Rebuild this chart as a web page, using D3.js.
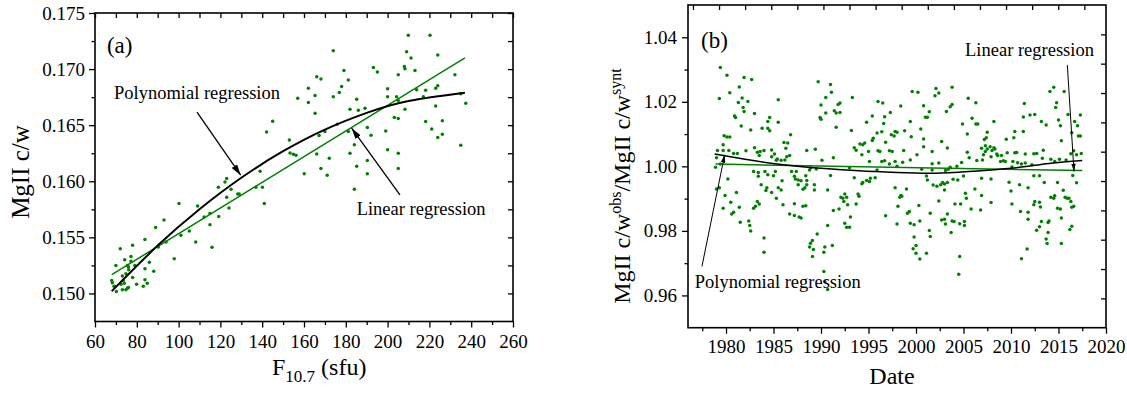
<!DOCTYPE html>
<html>
<head>
<meta charset="utf-8">
<script src="https://cdn.jsdelivr.net/npm/d3@7/dist/d3.min.js"></script>
<style>
body{margin:0;background:#ffffff;}
#chart svg{display:block;}
#chart text{font-family:"Liberation Serif","Times New Roman",serif;}
</style>
</head>
<body>
<div id="chart"></div>
<script>
// ---- (a) MgII c/w versus F10.7 ----
var aFlux=[145.0,142.1,153.0,153.3,154.9,156.2,139.0,123.0,122.2,119.0,
    125.1,128.3,129.0,123.0,137.0,140.1,141.0,124.1,119.2,115.0,
    115.0,112.2,109.1,116.0,108.2,105.1,101.1,100.2,93.0,89.0,
    94.0,90.3,97.9,83.9,78.0,72.1,77.2,74.2,70.0,75.5,
    76.0,77.2,79.1,86.0,83.9,88.1,76.1,74.8,73.1,78.0,
    68.0,68.3,73.5,74.0,69.1,72.4,79.9,83.9,85.0,83.1,
    70.2,73.1,74.8,75.5,76.0,69.6,
    209.9,220.3,174.0,209.1,211.2,224.0,213.1,208.0,208.3,193.2,
    195.1,205.1,232.2,179.1,181.2,166.1,168.1,178.0,162.1,176.9,
    165.3,174.0,157.0,162.1,185.2,200.0,200.0,204.3,205.1,213.9,
    218.2,223.0,224.0,217.1,223.0,235.0,237.4,165.3,182.0,186.0,
    189.2,208.3,203.2,205.1,218.2,226.2,221.1,224.0,226.2,235.0,
    190.3,192.1,199.1,167.2,170.0,175.9,181.2,184.1,166.1,172.1,
    182.0,200.0,205.1,190.3,185.2,168.1,160.1,171.1,190.3,205.1,184.1];
var aRatio=[0.16536,0.16440,0.16369,0.16253,0.16241,0.16232,0.16089,0.16024,0.15994,0.15946,
    0.15929,0.15887,0.15887,0.15857,0.15946,0.15946,0.15801,0.15761,0.15685,0.15712,
    0.15613,0.15681,0.15779,0.15411,0.15458,0.15556,0.15518,0.15801,0.15654,0.15587,
    0.15458,0.15413,0.15310,0.15480,0.15429,0.15399,0.15330,0.15301,0.15250,0.15250,
    0.15235,0.15286,0.15250,0.15279,0.15220,0.15199,0.15212,0.15176,0.15155,0.15143,
    0.15116,0.15096,0.15116,0.15092,0.15065,0.15083,0.15083,0.15122,0.15092,0.15065,
    0.15018,0.15033,0.15033,0.15047,0.15054,0.15063,
    0.17301,0.17301,0.17164,0.17155,0.17098,0.17125,0.16988,0.17024,0.17003,0.17015,
    0.16973,0.16949,0.16949,0.16988,0.16902,0.16931,0.16911,0.16845,0.16830,0.16792,
    0.16765,0.16753,0.16741,0.16703,0.16732,0.16824,0.16753,0.16753,0.16720,0.16815,
    0.16812,0.16830,0.16851,0.16753,0.16672,0.16780,0.16696,0.16607,0.16643,0.16634,
    0.16652,0.16643,0.16569,0.16560,0.16533,0.16539,0.16467,0.16390,0.16420,0.16321,
    0.16480,0.16411,0.16449,0.16408,0.16444,0.16509,0.16444,0.16325,0.16243,0.16205,
    0.16250,0.16280,0.16250,0.16185,0.16134,0.16113,0.16066,0.16054,0.16066,0.16113,0.15930];
var aLinFlux=[68,237];
var aLinRatio=[0.15167,0.17100];
var aPolyFlux=[68,90,110,130,150,170,190,210,237];
var aPolyRatio=[0.15020,0.15427,0.15751,0.16031,0.16268,0.16461,0.16610,0.16716,0.16790];
var aXTicks=[60,80,100,120,140,160,180,200,220,240,260];
var aXMinor=[70,90,110,130,150,170,190,210,230,250];
var aYTicks=[0.150,0.155,0.160,0.165,0.170,0.175];
var aYMinor=[0.1525,0.1575,0.1625,0.1675,0.1725];

// ---- (b) observed / synthetic ratio versus date ----
var bYear=[1979.4,1980.1,1979.3,1980.4,1979.8,1980.1,1980.4,1979.7,1979.1,1979.7,
    1980.3,1980.8,1981.2,1979.0,1978.9,1979.4,1979.0,1979.3,1980.2,1979.9,
    1980.5,1979.7,1981.1,1980.6,1980.8,1981.4,1981.5,1982.4,1982.5,1982.6,
    1981.9,1982.7,1981.4,1981.3,1981.7,1982.3,1981.8,1981.9,1980.9,1981.0,
    1983.0,1981.6,1982.6,1983.8,1984.4,1984.6,1984.4,1984.6,1985.5,1985.5,
    1982.1,1983.0,1983.3,1983.5,1983.6,1984.0,1984.8,1984.8,1985.3,1985.4,
    1985.1,1986.1,1986.5,1986.8,1986.3,1986.2,1986.4,1986.7,1985.8,1982.9,
    1983.4,1983.4,1984.1,1984.4,1985.0,1985.2,1983.7,1984.3,1984.2,1985.5,
    1985.9,1985.3,1984.8,1985.8,1983.3,1983.5,1983.1,1982.9,1984.0,1984.0,
    1986.9,1987.2,1987.4,1987.3,1987.6,1987.9,1988.4,1988.5,1987.6,1988.1,
    1988.3,1988.5,1989.3,1989.3,1988.8,1988.9,1989.5,1988.5,1989.4,1990.1,
    1991.3,1990.7,1991.0,1986.0,1987.2,1986.7,1987.2,1987.7,1987.9,1988.1,
    1988.4,1989.7,1991.0,1990.5,1991.1,1990.0,1989.9,1990.0,1990.5,1991.4,
    1991.6,1991.8,1992.0,1992.0,1991.6,1993.3,1989.1,1988.9,1988.8,1989.2,
    1989.1,1989.6,1990.4,1990.3,1991.2,1990.7,1990.3,1990.4,1990.7,1991.3,
    1992.1,1992.3,1992.5,1992.7,1992.8,1991.9,1993.1,1993.0,1992.7,1992.5,
    1992.4,1993.2,1993.5,1993.7,1994.1,1994.3,1994.4,1994.6,1995.0,1995.1,
    1995.4,1995.5,1995.9,1996.0,1996.2,1996.4,1996.6,1996.7,1996.8,1997.2,
    1997.4,1997.5,1997.7,1997.8,1993.0,1993.5,1994.3,1993.9,1993.7,1994.0,
    1994.4,1994.8,1995.1,1995.2,1995.7,1995.9,1996.4,1996.7,1997.2,1997.8,
    1997.8,1996.8,1998.0,1995.4,1994.8,1996.0,1996.5,1997.3,
    1998.4,1998.0,1998.8,1999.4,1999.5,2000.5,2000.8,2001.0,2001.2,2001.4,
    2000.8,2000.8,2000.1,1998.7,1999.4,1998.6,1998.0,1998.5,1998.3,1998.4,
    1999.0,1998.1,1999.1,1999.3,1999.4,1999.8,1999.8,2000.0,1999.7,2000.0,
    2000.4,2000.3,2000.4,2000.6,2001.1,2001.4,2001.5,2001.5,2001.7,2001.7,
    2001.1,2001.2,1999.6,2000.2,2002.0,2002.4,2002.1,2003.8,2003.2,2003.6,
    2003.8,2005.5,2006.3,2005.9,2006.3,2006.5,2004.9,2005.4,2007.5,2007.4,
    2007.2,2008.2,2006.9,2007.8,2007.3,2007.5,2008.0,2008.2,2008.3,2008.5,
    2008.6,2008.9,2009.2,2009.4,2009.0,2007.3,2007.1,2007.9,2005.4,2005.6,
    2006.4,2007.0,2004.8,2004.3,2002.4,2003.6,2003.1,2003.4,2002.2,2001.8,
    2002.6,2002.8,2003.0,2002.4,2003.0,2003.3,2003.9,2005.0,2004.4,2003.3,
    2002.7,2003.0,2003.1,2003.8,2004.1,2004.7,2004.0,2004.6,2005.1,2005.1,
    2003.7,2004.6,2004.5,2005.2,2005.3,2005.8,2006.2,2006.9,2006.9,2006.8,
    2007.9,2007.9,2009.6,2010.4,2010.6,2010.2,2010.1,2010.7,2011.5,2011.5,
    2011.3,2011.3,2011.4,2012.0,2012.5,2010.4,2010.3,2011.1,2012.2,2012.4,
    2012.7,2013.4,2013.3,2013.2,2013.7,2014.1,2014.5,2014.8,2014.7,2015.0,
    2015.2,2015.3,2015.6,2016.0,2016.4,2016.3,2016.7,2017.0,2017.3,2017.1,
    2017.3,2016.6,2016.9,2017.4,2014.2,2014.6,2015.1,2015.8,2012.4,2013.0,
    2013.5,2014.9,2010.9,2011.8,2009.8,2010.0,2010.1,2011.0,2011.8,2011.8,
    2012.4,2012.5,2013.0,2013.1,2012.7,2013.0,2013.2,2013.9,2014.0,2013.9,
    2013.7,2013.8,2015.3,2014.2,2014.5,2014.6,2014.9,2015.2,2015.3,2015.5,
    2015.7,2015.9,2016.1,2016.3,2016.2,2016.4,2016.4,2016.6,2016.5,2016.9,
    2011.1,2011.7,2009.5,2001.7,2002.7,2003.3];
var bRatio=[1.0306,1.0282,1.0210,1.0228,1.0095,1.0091,1.0091,1.0067,1.0049,1.0049,
    1.0049,1.0040,1.0040,1.0027,0.9997,1.0007,0.9930,0.9934,0.9961,0.9910,
    0.9889,0.9870,0.9919,0.9852,0.9858,0.9873,0.9827,0.9831,0.9817,0.9800,
    1.0275,1.0269,1.0246,1.0198,1.0212,1.0201,1.0182,1.0170,1.0156,1.0151,
    1.0164,1.0125,1.0113,1.0118,1.0118,1.0110,1.0139,1.0151,1.0206,1.0137,
    1.0048,1.0058,1.0044,1.0034,1.0046,1.0049,1.0051,1.0030,1.0019,1.0023,
    1.0038,1.0074,1.0072,1.0098,1.0056,1.0020,1.0030,1.0034,1.0019,0.9984,
    0.9981,0.9969,0.9984,0.9974,0.9971,0.9984,0.9943,0.9934,0.9925,0.9934,
    0.9955,0.9901,0.9919,0.9927,0.9891,0.9883,0.9876,0.9870,0.9778,0.9734,
    0.9984,0.9969,0.9984,0.9961,0.9958,0.9955,0.9971,0.9956,0.9943,0.9929,
    0.9934,0.9943,0.9927,0.9943,0.9989,0.9996,0.9992,1.0049,1.0053,1.0019,
    1.0027,0.9927,0.9972,0.9881,0.9884,0.9852,0.9848,0.9843,0.9840,0.9876,
    0.9878,1.0262,1.0254,1.0213,1.0230,1.0190,1.0151,1.0146,1.0165,1.0172,
    1.0165,1.0192,1.0196,1.0167,1.0121,1.0213,0.9770,0.9762,0.9750,0.9742,
    0.9721,0.9790,0.9750,0.9734,0.9755,0.9817,0.9674,0.9643,0.9618,0.9863,
    0.9904,0.9901,0.9914,0.9904,0.9881,0.9868,0.9843,0.9811,0.9811,0.9824,
    0.9891,1.0111,1.0058,1.0050,1.0069,1.0036,1.0067,1.0072,1.0046,1.0015,
    1.0080,1.0087,1.0103,1.0048,1.0046,1.0107,1.0133,1.0154,1.0075,1.0048,
    1.0098,1.0046,1.0094,1.0108,0.9996,0.9965,0.9946,0.9914,0.9883,0.9907,
    0.9950,0.9956,0.9953,0.9963,0.9965,0.9989,1.0015,1.0017,1.0007,1.0015,
    0.9934,0.9847,0.9821,1.0156,1.0137,1.0201,1.0196,1.0167,
    1.0187,1.0106,1.0110,1.0139,1.0092,1.0116,1.0188,1.0152,1.0152,1.0169,
    1.0085,1.0061,1.0036,1.0049,1.0020,1.0013,1.0000,0.9907,0.9904,0.9910,
    0.9930,0.9876,0.9855,0.9860,0.9824,0.9819,0.9781,0.9755,0.9745,0.9731,
    0.9713,0.9879,0.9831,0.9991,0.9731,0.9801,0.9783,0.9855,1.0008,0.9989,
    0.9970,0.9958,1.0232,1.0230,1.0219,1.0227,1.0241,1.0245,1.0170,1.0185,
    1.0192,1.0211,1.0197,1.0149,1.0131,1.0131,1.0131,1.0100,1.0106,1.0089,
    1.0083,1.0139,1.0056,1.0061,1.0064,1.0054,1.0049,1.0058,1.0054,1.0038,
    1.0034,1.0015,1.0017,1.0015,1.0034,1.0046,1.0036,1.0030,1.0044,1.0027,
    1.0018,1.0020,1.0012,1.0000,1.0010,0.9997,0.9987,0.9991,0.9938,0.9942,
    0.9943,0.9950,0.9945,0.9893,0.9927,0.9950,0.9960,0.9970,0.9958,0.9852,
    0.9834,0.9836,0.9821,0.9831,0.9883,0.9883,0.9829,0.9822,0.9829,0.9817,
    0.9795,0.9721,0.9666,0.9917,0.9901,0.9868,0.9930,0.9963,0.9910,0.9865,
    0.9961,0.9888,1.0042,1.0042,1.0043,1.0015,0.9998,1.0011,1.0038,1.0010,
    1.0108,1.0153,1.0195,1.0159,1.0161,1.0108,1.0089,1.0007,1.0005,1.0039,
    1.0040,1.0050,1.0025,1.0139,1.0128,1.0232,1.0245,1.0197,1.0182,1.0144,
    1.0126,1.0079,1.0232,1.0161,1.0104,1.0039,1.0139,1.0126,1.0159,1.0094,
    1.0094,1.0048,1.0036,1.0040,1.0022,1.0015,1.0022,1.0020,0.9971,0.9971,
    0.9950,0.9950,0.9943,0.9934,0.9951,0.9924,0.9883,0.9860,0.9858,0.9836,
    0.9881,0.9891,0.9889,0.9874,0.9802,0.9813,0.9829,0.9826,0.9831,0.9795,
    0.9775,0.9761,0.9761,0.9904,0.9901,0.9909,0.9870,0.9868,0.9840,0.9926,
    0.9904,0.9901,0.9901,0.9891,0.9804,0.9814,0.9873,0.9876,0.9972,0.9949,
    0.9714,0.9744,1.0084,1.0046,1.0077,1.0057];
var bLinYear=[1978.9,2017.5];
var bLinRatio=[1.0007,0.9987];
var bPolyYear=[1978.8,1982,1986,1990,1994,1998,2002,2006,2010,2014,2017.5];
var bPolyRatio=[1.0038,1.0022,1.0005,0.9994,0.9986,0.9981,0.9979,0.9985,0.9994,1.0009,1.0018];
var bXTicks=[1980,1985,1990,1995,2000,2005,2010,2015,2020];
var bXMinor=[1977.5,1982.5,1987.5,1992.5,1997.5,2002.5,2007.5,2012.5,2017.5];
var bYTicks=[0.96,0.98,1.00,1.02,1.04];
var bYMinor=[0.97,0.99,1.01,1.03];
// mirror axes of (b) carry their own evenly spaced ticks
var bTopTicks=d3.range(0,16);
var bRightTicks=d3.range(1,11);

//画布
var svg=d3.select("#chart").append("svg")
    .attr("width",1127)
    .attr("height",394);

//箭头
var defs=svg.append("defs");
function addArrow(id,w,h){
    defs.append("marker")
        .attr("id",id)
        .attr("markerUnits","userSpaceOnUse")
        .attr("markerWidth",w)
        .attr("markerHeight",h)
        .attr("refX",w)
        .attr("refY",h/2)
        .attr("orient","auto")
        .append("path")
        .attr("d","M0,0L"+w+","+(h/2)+"L0,"+h+"Z")
        .attr("fill","#000");
}
addArrow("arrowA",11,6.5);
addArrow("arrowB",8,4.5);

function styleAxis(g){
    g.select(".domain").remove();
    g.attr("font-family",null).attr("font-size",null);
    g.selectAll("line").attr("stroke","#000").attr("stroke-width",1.3);
    g.selectAll("text").attr("fill","#000").style("font-size","19px");
}

//坐标轴+外框
function drawAxes(p){
    var x0=p.x.range()[0],x1=p.x.range()[1];
    var y0=p.y.range()[0],y1=p.y.range()[1];
    svg.append("g").attr("transform","translate(0,"+y0+")")
        .call(d3.axisBottom(p.x).tickValues(p.xTicks).tickFormat(d3.format("d")).tickSize(6).tickPadding(p.xPad))
        .call(styleAxis);
    svg.append("g").attr("transform","translate(0,"+y0+")")
        .call(d3.axisBottom(p.x).tickValues(p.xMinor).tickFormat("").tickSize(3.5))
        .call(styleAxis);
    svg.append("g").attr("transform","translate("+x0+",0)")
        .call(d3.axisLeft(p.y).tickValues(p.yTicks).tickFormat(d3.format(p.yFmt)).tickSize(6).tickPadding(p.yPad))
        .call(styleAxis);
    svg.append("g").attr("transform","translate("+x0+",0)")
        .call(d3.axisLeft(p.y).tickValues(p.yMinor).tickFormat("").tickSize(3.5))
        .call(styleAxis);
    //上边、右边的刻度朝内
    svg.append("g").attr("transform","translate(0,"+y1+")")
        .call(d3.axisBottom(p.topScale).tickValues(p.topTicks).tickFormat("").tickSize(5))
        .call(styleAxis);
    svg.append("g").attr("transform","translate("+x1+",0)")
        .call(d3.axisLeft(p.rightScale).tickValues(p.rightTicks).tickFormat("").tickSize(5))
        .call(styleAxis);
    svg.append("rect")
        .attr("x",x0).attr("y",y1)
        .attr("width",x1-x0).attr("height",y0-y1)
        .attr("fill","none")
        .attr("stroke","#000")
        .attr("stroke-width",1.6);
}

function drawDots(xs,ys,sx,sy){
    svg.append("g").selectAll("circle")
        .data(d3.zip(xs,ys))
        .enter()
        .append("circle")
        .attr("cx",function(d){return sx(d[0]);})
        .attr("cy",function(d){return sy(d[1]);})
        .attr("r",1.75)
        .attr("fill","#008000");
}

function drawCurve(xs,ys,sx,sy,color,width){
    var line=d3.line()
        .x(function(d){return sx(d[0]);})
        .y(function(d){return sy(d[1]);})
        .curve(d3.curveNatural);
    svg.append("path")
        .attr("d",line(d3.zip(xs,ys)))
        .attr("fill","none")
        .attr("stroke",color)
        .attr("stroke-width",width);
}

function note(x,y,txt,size){
    svg.append("text")
        .attr("x",x).attr("y",y)
        .attr("font-size",(size||18.5)+"px")
        .attr("fill","#000")
        .text(txt);
}

function arrow(xa,ya,xb,yb,marker,width){
    svg.append("line")
        .attr("x1",xa).attr("y1",ya)
        .attr("x2",xb).attr("y2",yb)
        .attr("stroke","#000")
        .attr("stroke-width",width)
        .attr("marker-end","url(#"+marker+")");
}

// ===== panel (a) =====
var ax=d3.scaleLinear().domain([60,260]).range([95,513]);
var ay=d3.scaleLinear().domain([0.1475,0.175]).range([321.5,13]);
drawDots(aFlux,aRatio,ax,ay);
drawCurve(aLinFlux,aLinRatio,ax,ay,"#008000",1.5);
drawCurve(aPolyFlux,aPolyRatio,ax,ay,"#000",2);
drawAxes({x:ax,y:ay,xTicks:aXTicks,xMinor:aXMinor,yTicks:aYTicks,yMinor:aYMinor,
    yFmt:".3f",xPad:7,yPad:4,
    topScale:ax,topTicks:aXTicks.concat(aXMinor),
    rightScale:ay,rightTicks:aYTicks.concat(aYMinor)});
note(ax(65.7),ay(0.17143),"(a)",23);
note(ax(69.1),ay(0.16732),"Polynomial regression");
arrow(ax(108.8),ay(0.16616),ax(129.7),ay(0.16054),"arrowA",1.3);
note(ax(185.2),ay(0.15696),"Linear regression");
arrow(ax(205.9),ay(0.15878),ax(182.8),ay(0.16473),"arrowA",1.3);
svg.append("text")
    .attr("transform","translate(29,172) rotate(-90)")
    .attr("text-anchor","middle")
    .attr("font-size","25px")
    .text("MgII c/w");
var xl=svg.append("text")
    .attr("x",272).attr("y",375)
    .attr("font-size","24px");
xl.append("tspan").text("F");
xl.append("tspan").attr("dy",7).attr("font-size","17px").text("10.7");
xl.append("tspan").attr("dy",-7).text(" (sfu)");

// ===== panel (b) =====
var bx=d3.scaleLinear().domain([1976,2020]).range([688,1106]);
var by=d3.scaleLinear().domain([0.95,1.05]).range([327.7,5]);
var bTop=d3.scaleLinear().domain([-0.19,15.83]).range([688,1106]);
var bRight=d3.scaleLinear().domain([0,11]).range([327.7,5]);
drawDots(bYear,bRatio,bx,by);
drawCurve(bLinYear,bLinRatio,bx,by,"#008000",1.5);
drawCurve(bPolyYear,bPolyRatio,bx,by,"#000",1.5);
drawAxes({x:bx,y:by,xTicks:bXTicks,xMinor:bXMinor,yTicks:bYTicks,yMinor:bYMinor,
    yFmt:".2f",xPad:6,yPad:5,
    topScale:bTop,topTicks:bTopTicks,
    rightScale:bRight,rightTicks:bRightTicks});
note(bx(1977.37),by(1.0368),"(b)",23);
note(bx(2005.16),by(1.0342),"Linear regression");
arrow(bx(2015.93),by(1.0314),bx(2016.63),by(0.9984),"arrowB",1);
note(bx(1976.71),by(0.9624),"Polynomial regression");
arrow(bx(1977.47),by(0.9690),bx(1979.86),by(1.0036),"arrowB",1);
var yl=svg.append("text")
    .attr("transform","translate(630,186) rotate(-90)")
    .attr("text-anchor","middle")
    .attr("font-size","24px");
yl.append("tspan").text("MgII c/w");
yl.append("tspan").attr("dy",-9).attr("font-size","16px").text("obs");
yl.append("tspan").attr("dy",9).text("/MgII c/w");
yl.append("tspan").attr("dy",-9).attr("font-size","16px").text("synt");
svg.append("text")
    .attr("x",892).attr("y",384)
    .attr("text-anchor","middle")
    .attr("font-size","24px")
    .text("Date");
</script>
</body>
</html>
